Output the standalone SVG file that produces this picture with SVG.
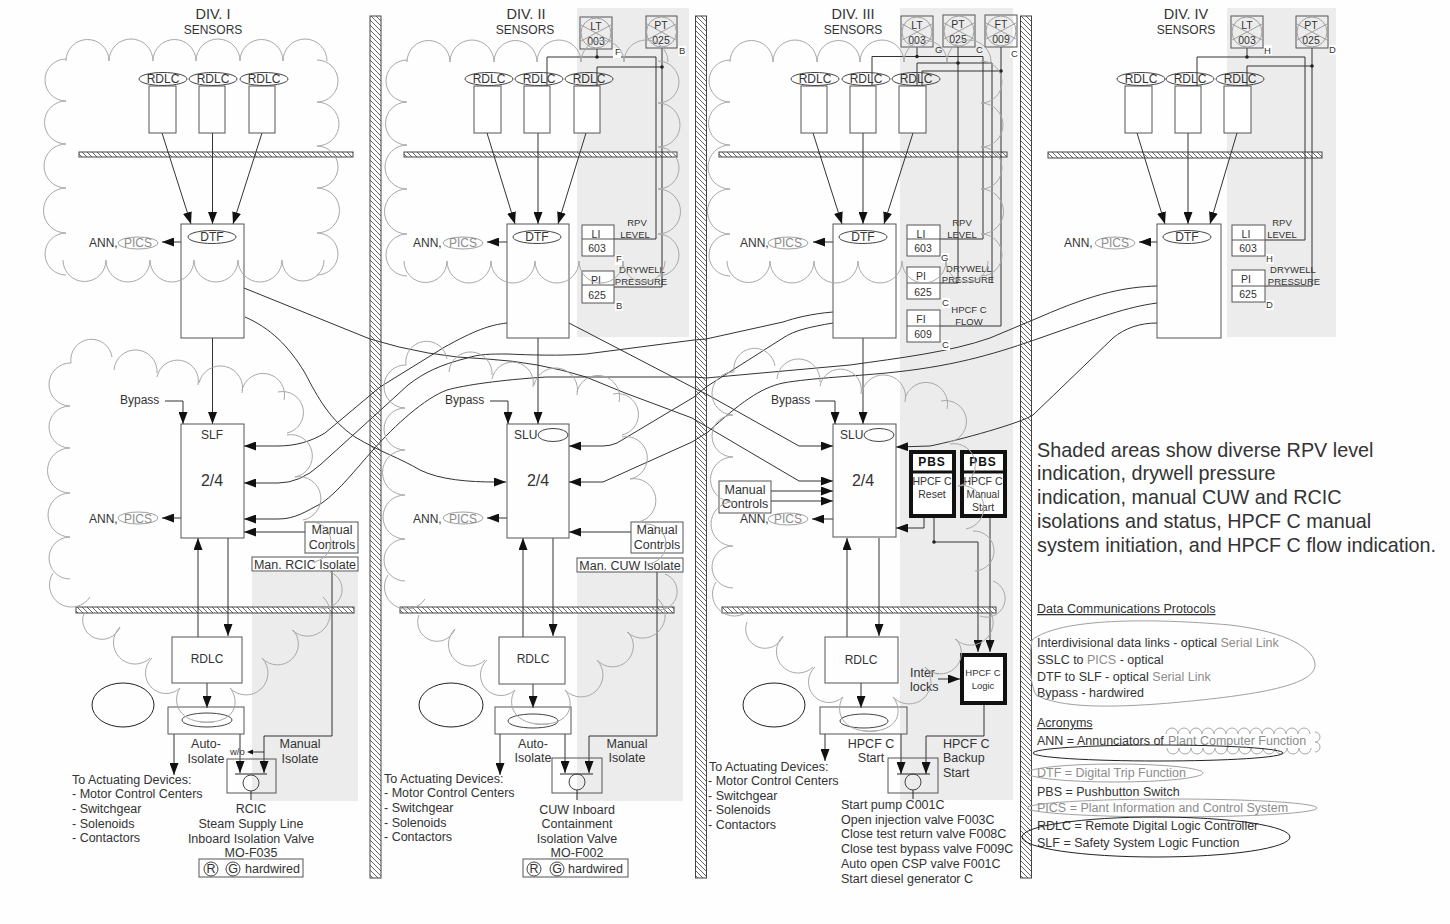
<svg xmlns="http://www.w3.org/2000/svg" width="1450" height="924" viewBox="0 0 1450 924">
<style>
text{font-family:"Liberation Sans",Arial,sans-serif;font-size:12px;fill:#333}
#div1-text text,#div2-text text,#div3-text text,#legend text,#div1-auto text,#div2-auto text,#div3-auto text{font-size:12.500px}
#legend .big{font-size:19.800px}
.m{text-anchor:middle}
.g{fill:#8c8c8c}
.b{fill:none;stroke:#555;stroke-width:1}
.wb{fill:#fff;stroke:#555;stroke-width:1}
.k{fill:none;stroke:#222;stroke-width:1}
.e{fill:none;stroke:#444;stroke-width:1}
.ge{fill:none;stroke:#a0a0a0;stroke-width:1}
.cl{fill:none;stroke:#a8a8a8;stroke-width:1}
.th{fill:#fff;stroke:#111;stroke-width:4}
.s{fill:#ececec}
.wl{fill:url(#h);stroke:#444;stroke-width:1}
.c{fill:none;stroke:#333;stroke-width:1}
.ar{marker-end:url(#a)}
.sm{font-size:9.500px}
.x{font-size:10.500px}
.wh{fill:#fff}
.dot{fill:#222}
</style>
<defs>
<pattern id="h" patternUnits="userSpaceOnUse" width="5" height="5"><rect width="5" height="5" fill="#fff"/><path d="M-1,-1L6,6M-1,4L1,6M4,-1L6,1" stroke="#555" stroke-width=".9"/></pattern>
<marker id="a" viewBox="0 0 12 10" refX="12" refY="5" markerWidth="12" markerHeight="9" markerUnits="userSpaceOnUse" orient="auto" preserveAspectRatio="none"><path d="M0,0L12,5L0,10Z" fill="#111"/></marker>
<path id="cloudU" class="cl" d="M66,61A1,1 0 0 1 109,61A1,1 0 0 1 153,61A1,1 0 0 1 196,61A1,1 0 0 1 240,61A1,1 0 0 1 283,61A1,1 0 0 1 327,61M317,60A1,1 0 0 1 317,102A1,1 0 0 1 317,146A1,1 0 0 1 317,188A1,1 0 0 1 317,233A1,1 0 0 1 317,275M324,260A1,1 0 0 1 282,260A1,1 0 0 1 238,260A1,1 0 0 1 194,260A1,1 0 0 1 150,260A1,1 0 0 1 106,260A1,1 0 0 1 63,260M66,275A1,1 0 0 1 66,233A1,1 0 0 1 66,188A1,1 0 0 1 66,144A1,1 0 0 1 66,101A1,1 0 0 1 66,59"/>
<path id="cloudL" class="cl" d="M70,406A1,1 0 0 1 71,363A1,1 0 0 1 112,357M114,370A1,1 0 0 1 157,373M157,377A1,1 0 0 1 198,385M199,383A1,1 0 0 1 242,393M242,390A1,1 0 0 1 284,400M278,392A1,1 0 0 1 287,433M287,435A1,1 0 0 1 295,477A1,1 0 0 1 303,520M310,522A1,1 0 0 1 312,562M330,572A1,1 0 0 1 317,607M323,597A1,1 0 0 1 292,630M293,630A1,1 0 0 1 262,658A1,1 0 0 1 230,688M230,688C240,700 238,725 200,722M180,688C172,700 176,725 214,722M180,688A1,1 0 0 1 152,658M150,658A1,1 0 0 1 120,627A1,1 0 0 1 84,613M90,597A1,1 0 0 1 53,573M70,579A1,1 0 0 1 70,537A1,1 0 0 1 70,493A1,1 0 0 1 70,448A1,1 0 0 1 70,406"/>
</defs>
<rect width="1450" height="924" fill="#fefefe"/>
<g id="shading">
<rect class="s" x="577" y="8" width="112" height="329"/>
<rect class="s" x="900" y="8" width="113" height="792"/>
<rect class="s" x="1227" y="8" width="109" height="329"/>
<rect class="s" x="252" y="572" width="106" height="229"/>
<rect class="s" x="577" y="572" width="106" height="229"/>
</g>
<g id="walls">
<rect class="wl" x="370" y="16" width="11" height="862"/>
<rect class="wl" x="695.500" y="16" width="11" height="862" stroke-width="2"/>
<rect class="wl" x="1020.500" y="16" width="11" height="862" stroke-width="2"/>
<rect class="wl" x="79" y="152" width="274" height="5"/>
<rect class="wl" x="404" y="152" width="273" height="5"/>
<rect class="wl" x="719" y="152" width="288" height="5"/>
<rect class="wl" x="1048" y="152" width="274" height="6"/>
<rect class="wl" x="76" y="607" width="278" height="6"/>
<rect class="wl" x="400" y="607" width="274" height="6"/>
<rect class="wl" x="722" y="607" width="274" height="6"/>
</g>

<g id="headers">
<text x="213" y="19" class="m" style="font-size:14.500px">DIV. I</text><text x="213" y="34" class="m">SENSORS</text>
<text x="526" y="19" class="m" style="font-size:14.500px">DIV. II</text><text x="525" y="34" class="m">SENSORS</text>
<text x="853" y="19" class="m" style="font-size:14.500px">DIV. III</text><text x="853" y="34" class="m">SENSORS</text>
<text x="1186" y="19" class="m" style="font-size:14.500px">DIV. IV</text><text x="1186" y="34" class="m">SENSORS</text>
</g>

<g id="connectors">
<path class="c ar" d="M162,133L191,224"/><path class="c ar" d="M212.500,133V224"/><path class="c ar" d="M262,133L233,224"/>
<path class="c ar" d="M487,133L515,224"/><path class="c ar" d="M538,133V224"/><path class="c ar" d="M586,133L558,224"/>
<path class="c ar" d="M813,133L842,224"/><path class="c ar" d="M863,133V224"/><path class="c ar" d="M913,133L884,224"/>
<path class="c ar" d="M1137,133L1165,224"/><path class="c ar" d="M1188,133V224"/><path class="c ar" d="M1237,133L1210,224"/>
<path class="c ar" d="M181,242H162"/><path class="c ar" d="M507,242H487"/><path class="c ar" d="M833,242H813"/><path class="c ar" d="M1157,242H1139"/>
<path class="c ar" d="M212.500,338V424"/><path class="c ar" d="M538,338V424"/><path class="c ar" d="M863,338V424"/>
<path class="c ar" d="M165,401H183V424"/><path class="c ar" d="M490,401H508V424"/><path class="c ar" d="M815,401H835V424"/>
<path class="c ar" d="M181,518H162"/><path class="c ar" d="M507,518H487"/><path class="c ar" d="M833,519H812"/>
<path class="c ar" d="M305,532H244"/><path class="c ar" d="M631,532H569"/>
<path class="c ar" d="M198,637V538"/><path class="c ar" d="M228,538V636"/>
<path class="c ar" d="M523,637V538"/><path class="c ar" d="M553,538V636"/>
<path class="c ar" d="M847,637V538"/><path class="c ar" d="M879,538V636"/>
<path class="c ar" d="M207,683V708"/><path class="c ar" d="M533,684V708"/><path class="c ar" d="M861,683V708"/>
<path class="c ar" d="M174,734V775"/><path class="c ar" d="M500,734V775"/><path class="c ar" d="M825,734V761"/>
<path class="c ar" d="M240,734V773"/><path class="c ar" d="M565,734V773"/><path class="c ar" d="M901,734V774"/>
<path class="c ar" d="M332,571V736H264V773"/><path class="c ar" d="M657,572V736H589V773"/>
<path class="c" d="M264,752H252"/><path d="M247,752L253,749.500V754.500Z" fill="#111"/>
<path class="c ar" d="M984,704V736H926V774"/>
<path class="c ar" d="M934,517V542H978V652"/><path class="c ar" d="M990,517V652"/>
<path class="c ar" d="M938,679H960"/>
<path class="c ar" d="M924,517V528H896"/>
<path class="c ar" d="M771,491H833"/><path class="c ar" d="M771,501H833"/>
<path class="c" d="M597,49V57M547,86V57H656V239H614M662,48V287H614M597,86V67H662"/>
<circle class="dot" cx="597" cy="57" r="1.800"/><circle class="dot" cx="662" cy="67" r="1.800"/>
<path class="c" d="M1247,48V57M1197,86V57H1305V240H1265M1312,48V286H1265M1247,86V66H1312"/>
<circle class="dot" cx="1247" cy="57" r="1.800"/><circle class="dot" cx="1312" cy="66" r="1.800"/>
<path class="c" d="M917,47V56.500M872,86V56.500H983V239H940M958,47V283H940M917,86V63H992V283M1001,47V326H940M922,86V71H1001"/>
<circle class="dot" cx="917" cy="56.500" r="1.800"/><circle class="dot" cx="958" cy="63" r="1.800"/><circle class="dot" cx="1001" cy="71" r="1.800"/><circle class="dot" cx="934" cy="542" r="1.800"/>
<path class="c ar" d="M244,288L370,339Q428,357 487,359Q538,362 586,377L625,393L692,418L799,481H833"/>
<path class="c ar" d="M245,317C270,328 288,345 305,373C318,398 330,420 355,437C380,452 400,458 420,470C440,480 470,482 495,482H506"/>
<path class="c ar" d="M507,323C490,325 475,330 443,348L380,387L325,433C310,442 295,446 277,446H244"/>
<path class="c ar" d="M569,323L694,388L708,395L799,446H833"/>
<path class="c ar" d="M1157,286C1127,287 1097,292 1040,317L990,338C950,352 900,358 850,365L706,378L694,377H546C500,380 465,385 447,390C425,398 395,425 373,450C355,470 340,490 322,503C305,512 295,519 278,519H244"/>
<path class="c ar" d="M1157,303C1127,307 1100,317 1040,338C1000,352 960,365 896,372C860,376 810,378 783,383C760,388 740,403 708,432L692,442L603,482H569"/>
<path class="c ar" d="M1157,323C1140,323 1125,328 1113,338L1033,415C1021,423 960,440 930,446L896,447"/>
<path class="c ar" d="M833,312C810,314 795,318 783,322L706,339L694,340L586,354C560,356 530,355 507,354C490,354 480,354 467,358C440,365 425,372 408,385L373,417L320,465Q300,483 278,483H244"/>
<path class="c ar" d="M833,323C810,327 795,330 783,338L706,387L694,397L617,443Q610,446 603,446H569"/>
</g>

<g id="div1-rdlc">
<ellipse class="e" cx="163" cy="79" rx="24" ry="6.500"/><text x="163" y="83" class="m">RDLC</text><rect class="b" x="149" y="86" width="27" height="47"/>
<ellipse class="e" cx="213" cy="79" rx="24" ry="6.500"/><text x="213" y="83" class="m">RDLC</text><rect class="b" x="199" y="86" width="26" height="47"/>
<ellipse class="e" cx="264" cy="79" rx="24" ry="6.500"/><text x="264" y="83" class="m">RDLC</text><rect class="b" x="249" y="86" width="26" height="47"/>
</g>
<g id="div2-rdlc">
<ellipse class="e" cx="489" cy="79" rx="24" ry="6.500"/><text x="489" y="83" class="m">RDLC</text><rect class="wb" x="474" y="86" width="27" height="47"/>
<ellipse class="e" cx="539" cy="79" rx="24" ry="6.500"/><text x="539" y="83" class="m">RDLC</text><rect class="wb" x="524" y="86" width="26" height="47"/>
<ellipse class="e" cx="589" cy="79" rx="24" ry="6.500"/><text x="589" y="83" class="m">RDLC</text><rect class="wb" x="574" y="86" width="26" height="47"/>
</g>
<g id="div3-rdlc">
<ellipse class="e" cx="815" cy="79" rx="24" ry="6.500"/><text x="815" y="83" class="m">RDLC</text><rect class="wb" x="801" y="86" width="26" height="47"/>
<ellipse class="e" cx="866" cy="79" rx="24" ry="6.500"/><text x="866" y="83" class="m">RDLC</text><rect class="wb" x="850" y="86" width="26" height="47"/>
<ellipse class="e" cx="916" cy="79" rx="24" ry="6.500"/><text x="916" y="83" class="m">RDLC</text><rect class="wb" x="899" y="86" width="27" height="47"/>
</g>
<g id="div4-rdlc">
<ellipse class="e" cx="1141" cy="79" rx="24" ry="6.500"/><text x="1141" y="83" class="m">RDLC</text><rect class="wb" x="1125" y="86" width="27" height="47"/>
<ellipse class="e" cx="1190" cy="79" rx="24" ry="6.500"/><text x="1190" y="83" class="m">RDLC</text><rect class="wb" x="1175" y="86" width="26" height="47"/>
<ellipse class="e" cx="1240" cy="79" rx="24" ry="6.500"/><text x="1240" y="83" class="m">RDLC</text><rect class="wb" x="1224" y="86" width="27" height="47"/>
</g>

<g id="div1-dtf"><rect class="b" x="181" y="224" width="63" height="114"/><ellipse class="e" cx="212" cy="237" rx="24" ry="6.500"/><text x="212" y="241" class="m">DTF</text></g>
<g id="div2-dtf"><rect class="b" x="507" y="224" width="62" height="114"/><ellipse class="e" cx="537" cy="237" rx="24" ry="6.500"/><text x="537" y="241" class="m">DTF</text></g>
<g id="div3-dtf"><rect class="b" x="833" y="224" width="63" height="114"/><ellipse class="e" cx="863" cy="237" rx="24" ry="6.500"/><text x="863" y="241" class="m">DTF</text></g>
<g id="div4-dtf"><rect class="b" x="1157" y="224" width="64" height="114"/><ellipse class="e" cx="1187" cy="237" rx="24" ry="6.500"/><text x="1187" y="241" class="m">DTF</text></g>

<g id="div1-ann"><text x="89" y="247">ANN,</text><ellipse class="ge" cx="138" cy="243" rx="20" ry="6"/><text x="138" y="247" class="m g">PICS</text></g>
<g id="div2-ann"><text x="413" y="247">ANN,</text><ellipse class="ge" cx="463" cy="243" rx="20" ry="6"/><text x="463" y="247" class="m g">PICS</text></g>
<g id="div3-ann"><text x="740" y="247">ANN,</text><ellipse class="ge" cx="788" cy="243" rx="20" ry="6"/><text x="788" y="247" class="m g">PICS</text></g>
<g id="div4-ann"><text x="1064" y="247">ANN,</text><ellipse class="ge" cx="1115" cy="243" rx="20" ry="6"/><text x="1115" y="247" class="m g">PICS</text></g>
<g id="div1-ann2"><text x="89" y="523">ANN,</text><ellipse class="ge" cx="138" cy="518" rx="20" ry="6"/><text x="138" y="523" class="m g">PICS</text></g>
<g id="div2-ann2"><text x="413" y="523">ANN,</text><ellipse class="ge" cx="463" cy="518" rx="20" ry="6"/><text x="463" y="523" class="m g">PICS</text></g>
<g id="div3-ann2"><text x="740" y="523">ANN,</text><ellipse class="ge" cx="788" cy="519" rx="20" ry="6"/><text x="788" y="523" class="m g">PICS</text></g>

<g id="div2-sensors">
<rect class="b" x="580" y="17" width="32" height="32"/><circle class="ge" cx="596" cy="33" r="15"/><path class="ge" d="M581,25L611,41M581,41L611,25"/><text x="596" y="30" class="m x">LT</text><text x="596" y="45" class="m x">003</text>
<rect class="b" x="646" y="16" width="31" height="32"/><circle class="ge" cx="661.500" cy="32" r="15"/><path class="ge" d="M647,24L676,40M647,40L676,24"/><text x="661" y="29" class="m x">PT</text><text x="661" y="44" class="m x">025</text>
<rect class="wh" x="613" y="48" width="8" height="10"/><text x="615" y="55" class="sm">F</text><rect class="wh" x="678" y="46" width="8" height="10"/><text x="679" y="54" class="sm">B</text>
<rect class="wb" x="582" y="225" width="32" height="31"/><path class="b" d="M582,239H614"/><text x="596" y="238" class="m x">LI</text><text x="597" y="252" class="m x">603</text>
<rect class="wb" x="582" y="271" width="32" height="32"/><path class="b" d="M582,285H614"/><text x="596" y="284" class="m x">PI</text><text x="597" y="299" class="m x">625</text>
<text x="637" y="226" class="m sm">RPV</text><text x="635" y="238" class="m sm">LEVEL</text>
<rect class="wh" x="615" y="255" width="8" height="10"/><text x="616" y="262" class="sm">F</text>
<text x="642" y="273" class="m sm">DRYWELL</text><text x="641" y="285" class="m sm">PRESSURE</text>
<rect class="wh" x="615" y="301" width="8" height="10"/><text x="616" y="309" class="sm">B</text>
</g>
<g id="div3-sensors">
<rect class="b" x="901" y="16" width="32" height="31"/><circle class="ge" cx="917" cy="32" r="15"/><path class="ge" d="M902,24L932,40M902,40L932,24"/><text x="917" y="29" class="m x">LT</text><text x="917" y="44" class="m x">003</text>
<rect class="b" x="943" y="15" width="32" height="32"/><circle class="ge" cx="959" cy="31" r="15"/><path class="ge" d="M944,23L974,39M944,39L974,23"/><text x="958" y="28" class="m x">PT</text><text x="958" y="43" class="m x">025</text>
<rect class="b" x="985" y="15" width="32" height="32"/><circle class="ge" cx="1001" cy="31" r="15"/><path class="ge" d="M986,23L1016,39M986,39L1016,23"/><text x="1001" y="28" class="m x">FT</text><text x="1001" y="43" class="m x">009</text>
<text x="935" y="53" class="sm">G</text><text x="976" y="53" class="sm">C</text><rect class="wh" x="1010" y="48" width="8" height="10"/><text x="1011" y="57" class="sm">C</text>
<rect class="wb" x="907" y="225" width="33" height="31"/><path class="b" d="M907,239H940"/><text x="921" y="238" class="m x">LI</text><text x="923" y="252" class="m x">603</text>
<rect class="wb" x="907" y="267" width="33" height="32"/><path class="b" d="M907,283H940"/><text x="921" y="280" class="m x">PI</text><text x="923" y="296" class="m x">625</text>
<rect class="wb" x="907" y="310" width="33" height="32"/><path class="b" d="M907,326H940"/><text x="921" y="323" class="m x">FI</text><text x="923" y="338" class="m x">609</text>
<text x="962" y="226" class="m sm">RPV</text><text x="962" y="238" class="m sm">LEVEL</text>
<rect class="wh" x="941" y="253" width="8" height="10"/><text x="941" y="261" class="sm">G</text><text x="969" y="272" class="m sm">DRYWELL</text><text x="968" y="283" class="m sm">PRESSURE</text>
<rect class="wh" x="942" y="298" width="8" height="10"/><text x="942" y="306" class="sm">C</text><text x="969" y="313" class="m sm">HPCF C</text><text x="969" y="325" class="m sm">FLOW</text>
<rect class="wh" x="942" y="340" width="8" height="10"/><text x="942" y="348" class="sm">C</text>
</g>
<g id="div4-sensors">
<rect class="b" x="1231" y="16" width="32" height="32"/><circle class="ge" cx="1247" cy="32" r="15"/><path class="ge" d="M1232,24L1262,40M1232,40L1262,24"/><text x="1247" y="29" class="m x">LT</text><text x="1247" y="44" class="m x">003</text>
<rect class="b" x="1296" y="16" width="32" height="32"/><circle class="ge" cx="1312" cy="32" r="15"/><path class="ge" d="M1297,24L1327,40M1297,40L1327,24"/><text x="1311" y="29" class="m x">PT</text><text x="1311" y="44" class="m x">025</text>
<rect class="wh" x="1264" y="45" width="8" height="10"/><text x="1264" y="54" class="sm">H</text><rect class="wh" x="1329" y="45" width="8" height="10"/><text x="1329" y="53" class="sm">D</text>
<rect class="wb" x="1232" y="225" width="33" height="31"/><path class="b" d="M1232,240H1265"/><text x="1246" y="238" class="m x">LI</text><text x="1248" y="252" class="m x">603</text>
<rect class="wb" x="1232" y="270" width="33" height="32"/><path class="b" d="M1232,286H1265"/><text x="1246" y="283" class="m x">PI</text><text x="1248" y="298" class="m x">625</text>
<text x="1282" y="226" class="m sm">RPV</text><text x="1282" y="238" class="m sm">LEVEL</text>
<rect class="wh" x="1266" y="254" width="8" height="10"/><text x="1266" y="262" class="sm">H</text><text x="1293" y="273" class="m sm">DRYWELL</text><text x="1294" y="285" class="m sm">PRESSURE</text>
<rect class="wh" x="1266" y="300" width="8" height="10"/><text x="1266" y="308" class="sm">D</text>
</g>

<g id="div1-slf"><rect class="b" x="181" y="424" width="63" height="114"/><text x="212" y="439" class="m">SLF</text><text x="212" y="486" class="m" style="font-size:16px">2/4</text><text x="120" y="404">Bypass</text></g>
<g id="div2-slu"><rect class="b" x="507" y="424" width="62" height="114"/><text x="514" y="439">SLU</text><ellipse class="e" cx="553" cy="435" rx="15" ry="6.500"/><text x="538" y="486" class="m" style="font-size:16px">2/4</text><text x="445" y="404">Bypass</text></g>
<g id="div3-slu"><rect class="b" x="833" y="424" width="63" height="113"/><text x="840" y="439">SLU</text><ellipse class="e" cx="879" cy="435" rx="15" ry="6.500"/><text x="863" y="486" class="m" style="font-size:16px">2/4</text><text x="771" y="404">Bypass</text></g>

<g id="div1-manual"><rect class="b" x="305" y="522" width="53" height="31"/><text x="332" y="534" class="m" style="font-size:12.500px">Manual</text><text x="332" y="549" class="m" style="font-size:12.500px">Controls</text><rect class="b" x="252" y="557" width="106" height="14"/><text x="305" y="569" class="m" style="font-size:12.500px">Man. RCIC Isolate</text></g>
<g id="div2-manual"><rect class="b" x="631" y="522" width="52" height="31"/><text x="657" y="534" class="m" style="font-size:12.500px">Manual</text><text x="657" y="549" class="m" style="font-size:12.500px">Controls</text><rect class="b" x="577" y="558" width="106" height="14"/><text x="630" y="570" class="m" style="font-size:12.500px">Man. CUW Isolate</text></g>
<g id="div3-manual"><rect class="b" x="719" y="481" width="52" height="32"/><text x="745" y="494" class="m" style="font-size:12.500px">Manual</text><text x="745" y="508" class="m" style="font-size:12.500px">Controls</text></g>

<g id="div3-pbs-reset"><rect class="th" x="911" y="452" width="43" height="64"/><path d="M909,472H955" stroke="#111" stroke-width="3"/><text x="932" y="466" class="m" style="font-size:12px;font-weight:bold;fill:#111;letter-spacing:1px">PBS</text><text x="932" y="485" class="m" style="font-size:10.500px">HPCF C</text><text x="932" y="498" class="m" style="font-size:10.500px">Reset</text></g>
<g id="div3-pbs-start"><rect class="th" x="962" y="452" width="43" height="64"/><path d="M960,472H1007" stroke="#111" stroke-width="3"/><text x="983" y="466" class="m" style="font-size:12px;font-weight:bold;fill:#111;letter-spacing:1px">PBS</text><text x="983" y="485" class="m" style="font-size:10.500px">HPCF C</text><text x="983" y="498" class="m" style="font-size:10px">Manual</text><text x="983" y="511" class="m" style="font-size:10.500px">Start</text></g>
<g id="div3-logic"><rect class="th" x="962" y="655" width="43" height="48"/><text x="983" y="676" class="m" style="font-size:9.500px">HPCF C</text><text x="983" y="689" class="m" style="font-size:9.500px">Logic</text><text x="910" y="677" style="font-size:12.500px">Inter-</text><text x="910" y="691" style="font-size:12.500px">locks</text></g>

<g id="div1-rdlc-box"><rect class="b" x="172" y="637" width="70" height="46"/><text x="207" y="663" class="m">RDLC</text></g>
<g id="div2-rdlc-box"><rect class="b" x="499" y="637" width="66" height="47"/><text x="533" y="663" class="m">RDLC</text></g>
<g id="div3-rdlc-box"><rect class="b" x="825" y="637" width="73" height="46"/><text x="861" y="664" class="m">RDLC</text></g>

<g id="div1-auto"><rect class="b" x="168" y="707" width="76" height="27"/><ellipse class="e" cx="207" cy="720" rx="25" ry="7"/><ellipse class="k" cx="123" cy="705" rx="31" ry="22"/><text x="206" y="748" class="m">Auto-</text><text x="206" y="763" class="m">Isolate</text><text x="300" y="748" class="m">Manual</text><text x="300" y="763" class="m">Isolate</text></g>
<g id="div2-auto"><rect class="b" x="495" y="707" width="76" height="27"/><ellipse class="e" cx="533" cy="721" rx="25" ry="7"/><ellipse class="k" cx="451" cy="705" rx="32" ry="22"/><text x="533" y="748" class="m">Auto-</text><text x="533" y="762" class="m">Isolate</text><text x="627" y="748" class="m">Manual</text><text x="627" y="762" class="m">Isolate</text></g>
<g id="div3-auto"><rect class="b" x="820" y="707" width="87" height="27"/><ellipse class="e" cx="864" cy="721" rx="24" ry="7"/><ellipse class="k" cx="774" cy="705" rx="31" ry="22"/><text x="871" y="748" class="m">HPCF C</text><text x="871" y="762" class="m">Start</text><text x="943" y="748">HPCF C</text><text x="943" y="762">Backup</text><text x="943" y="777">Start</text></g>

<g id="div1-valve"><rect class="b" x="227" y="759" width="49" height="34"/><path class="k" d="M235,774H267M251,791V800"/><circle class="e" cx="251" cy="783" r="8"/><text x="230" y="755" style="font-size:9.500px">w/o</text></g>
<g id="div2-valve"><rect class="b" x="552" y="758" width="50" height="35"/><path class="k" d="M560,774H593M577,790V800"/><circle class="e" cx="577" cy="782" r="8"/></g>
<g id="div3-valve"><rect class="b" x="888" y="758" width="50" height="35"/><path class="k" d="M897,774H930M913,790V799"/><circle class="e" cx="913" cy="782" r="8"/></g>

<g id="div1-text"><text x="72" y="784">To Actuating Devices:</text><text x="72" y="798">- Motor Control Centers</text><text x="72" y="813">- Switchgear</text><text x="72" y="828">- Solenoids</text><text x="72" y="842">- Contactors</text>
<text x="251" y="813" class="m">RCIC</text><text x="251" y="828" class="m">Steam Supply Line</text><text x="251" y="843" class="m">Inboard Isolation Valve</text><text x="251" y="857" class="m">MO-F035</text>
<rect class="b" x="199" y="859" width="104" height="18"/><circle class="e" cx="211" cy="869" r="7"/><text x="211" y="873" class="m">R</text><circle class="e" cx="233" cy="869" r="7"/><text x="233" y="873" class="m">G</text><text x="245" y="873">hardwired</text></g>
<g id="div2-text"><text x="384" y="783">To Actuating Devices:</text><text x="384" y="797">- Motor Control Centers</text><text x="384" y="812">- Switchgear</text><text x="384" y="827">- Solenoids</text><text x="384" y="841">- Contactors</text>
<text x="577" y="814" class="m">CUW Inboard</text><text x="577" y="828" class="m">Containment</text><text x="577" y="843" class="m">Isolation Valve</text><text x="577" y="857" class="m">MO-F002</text>
<rect class="b" x="523" y="859" width="105" height="18"/><circle class="e" cx="534" cy="869" r="7"/><text x="534" y="873" class="m">R</text><circle class="e" cx="557" cy="869" r="7"/><text x="557" y="873" class="m">G</text><text x="568" y="873">hardwired</text></g>
<g id="div3-text"><text x="709" y="771">To Actuating Devices:</text><text x="708" y="785">- Motor Control Centers</text><text x="708" y="800">- Switchgear</text><text x="708" y="814">- Solenoids</text><text x="708" y="829">- Contactors</text>
<text x="841" y="809">Start pump C001C</text><text x="841" y="824">Open injection valve F003C</text><text x="841" y="838">Close test return valve F008C</text><text x="841" y="853">Close test bypass valve F009C</text><text x="841" y="868">Auto open CSP valve F001C</text><text x="841" y="883">Start diesel generator C</text></g>

<g id="clouds">
<use href="#cloudU"/><use href="#cloudU" transform="translate(341,1)"/><use href="#cloudU" transform="translate(664,1)"/>
<use href="#cloudL"/><use href="#cloudL" transform="translate(335,2)"/><use href="#cloudL" transform="translate(663,9)"/>
</g>

<g id="legend">
<text x="1037" y="457" class="big">Shaded areas show diverse RPV level</text>
<text x="1037" y="480" class="big">indication, drywell pressure</text>
<text x="1037" y="504" class="big">indication, manual CUW and RCIC</text>
<text x="1037" y="528" class="big">isolations and status, HPCF C manual</text>
<text x="1037" y="552" class="big">system initiation, and HPCF C flow indication.</text>
<text x="1037" y="613" text-decoration="underline">Data Communications Protocols</text>
<text x="1037" y="647">Interdivisional data links - optical <tspan class="g">Serial Link</tspan></text>
<text x="1037" y="664">SSLC to <tspan class="g">PICS</tspan> - optical</text>
<text x="1037" y="681">DTF to SLF - optical <tspan class="g">Serial Link</tspan></text>
<text x="1037" y="697">Bypass - hardwired</text>
<path class="ge" d="M1032,640C1060,618 1150,618 1230,625C1290,632 1315,650 1315,665C1315,685 1260,695 1170,703C1110,708 1060,708 1036,695C1028,680 1030,650 1032,640"/>
<text x="1037" y="727" text-decoration="underline">Acronyms</text>
<text x="1037" y="745">ANN = Annunciators of</text><text x="1168" y="745" class="g">Plant Computer Function</text>
<path class="cl" d="M1166,734a1,1 0 0 1 12,0a1,1 0 0 1 12,0a1,1 0 0 1 12,0a1,1 0 0 1 12,0a1,1 0 0 1 12,0a1,1 0 0 1 12,0a1,1 0 0 1 12,0a1,1 0 0 1 12,0a1,1 0 0 1 12,0a1,1 0 0 1 12,0a1,1 0 0 1 12,0a1,1 0 0 1 12,0M1315,732a1,1 0 0 1 0,10a1,1 0 0 1 0,10M1311,748a1,1 0 0 1 -12,0a1,1 0 0 1 -12,0a1,1 0 0 1 -12,0a1,1 0 0 1 -12,0a1,1 0 0 1 -12,0a1,1 0 0 1 -12,0a1,1 0 0 1 -12,0a1,1 0 0 1 -12,0a1,1 0 0 1 -12,0a1,1 0 0 1 -12,0a1,1 0 0 1 -12,0a1,1 0 0 1 -12,0"/>
<ellipse class="k" cx="1158" cy="753" rx="125" ry="8"/>
<text x="1037" y="777" class="g">DTF = Digital Trip Function</text><ellipse class="ge" cx="1115" cy="773" rx="88" ry="9"/>
<text x="1037" y="796">PBS = Pushbutton Switch</text>
<text x="1037" y="812" class="g">PICS = Plant Information and Control System</text><ellipse class="ge" cx="1172" cy="808" rx="145" ry="9"/>
<text x="1037" y="830">RDLC = Remote Digital Logic Controller</text>
<text x="1037" y="847">SLF  = Safety System Logic Function</text>
<ellipse class="k" cx="1156" cy="837" rx="134" ry="20"/>
</g>
</svg>
